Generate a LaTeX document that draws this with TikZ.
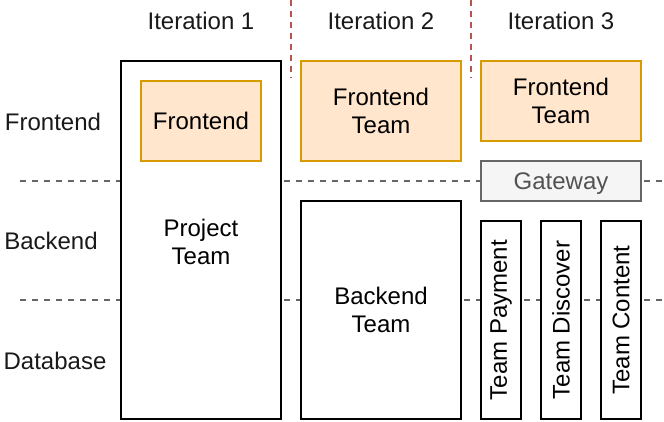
\documentclass[tikz,border=0pt]{standalone}
\usepackage{fontspec}
\setmainfont{Liberation Sans}
\usetikzlibrary{positioning}
\definecolor{feFill}{HTML}{FFE6CC}
\definecolor{feLine}{HTML}{D79B00}
\definecolor{gwFill}{HTML}{F5F5F5}
\definecolor{gwLine}{HTML}{666666}
\definecolor{sepRed}{HTML}{B85450}

\begin{document}
\begin{tikzpicture}[x=1pt, y=-1pt, line width=2pt,
    font=\fontsize{24}{28}\selectfont,
    team/.style={draw, rectangle, fill=white, align=center, inner sep=0pt},
    fe/.style={draw=feLine, fill=feFill, rectangle, align=center, inner sep=0pt},
    gw/.style={draw=gwLine, fill=gwFill, text=gwLine!80!black, rectangle, inner sep=0pt, text depth=0pt},
    sep/.style={draw=gwLine, dash pattern=on 6pt off 6pt},
    itsep/.style={draw=sepRed, dash pattern=on 6pt off 5pt},
    lbl/.style={inner sep=0pt, text=black!90}]
    \useasboundingbox (0,0) rectangle (664,422);

    % Trennlinien
    \coordinate (s1a) at (20,181);
    \coordinate (s1b) at (664,181);
    \coordinate (s2a) at (20,300);
    \coordinate (s2b) at (664,300);
    \coordinate (v1a) at (291,0);
    \coordinate (v1b) at (291,78);
    \coordinate (v2a) at (471,0);
    \coordinate (v2b) at (471,78);
    \draw[sep] (s1a) -- (s1b);
    \draw[sep] (s2a) -- (s2b);
    \draw[itsep] (v1a) -- (v1b);
    \draw[itsep] (v2a) -- (v2b);

    % Beschriftungen
    \node[lbl] (it1) at (201,21) {Iteration 1};
    \node[lbl] (it2) at (381,21) {Iteration 2};
    \node[lbl] (it3) at (561,21) {Iteration 3};
    \node[lbl] (lfe) at (53,122) {Frontend};
    \node[lbl] (lbe) at (51,241) {Backend};
    \node[lbl] (ldb) at (55,361) {Database};

    % Iteration 1
    \node[team, minimum width=160pt, minimum height=358pt] (project) at (201,240) {};
    \node[fe, minimum width=120pt, minimum height=80pt] (fe1) at (201,121) {Frontend};
    \node[align=center, inner sep=0pt] (ptxt) at (201,242) {Project\\Team};

    % Iteration 2
    \node[fe, minimum width=160pt, minimum height=100pt] (fe2) at (381,111) {Frontend\\Team};
    \node[team, minimum width=160pt, minimum height=218pt] (be2) at (381,310) {Backend\\Team};

    % Iteration 3
    \node[fe, minimum width=160pt, minimum height=80pt] (fe3) at (561,101) {Frontend\\Team};
    \node[gw, minimum width=160pt, minimum height=40pt] (gateway) at (561,181) {Gateway};
    \node[team, rotate=90, minimum width=198pt, minimum height=40pt] (pay) at (501,320) {Team Payment};
    \node[team, rotate=90, minimum width=198pt, minimum height=40pt] (disc) at (561,320) {Team Discover};
    \node[team, rotate=90, minimum width=198pt, minimum height=40pt] (cont) at (621,320) {Team Content};
\end{tikzpicture}
\end{document}
